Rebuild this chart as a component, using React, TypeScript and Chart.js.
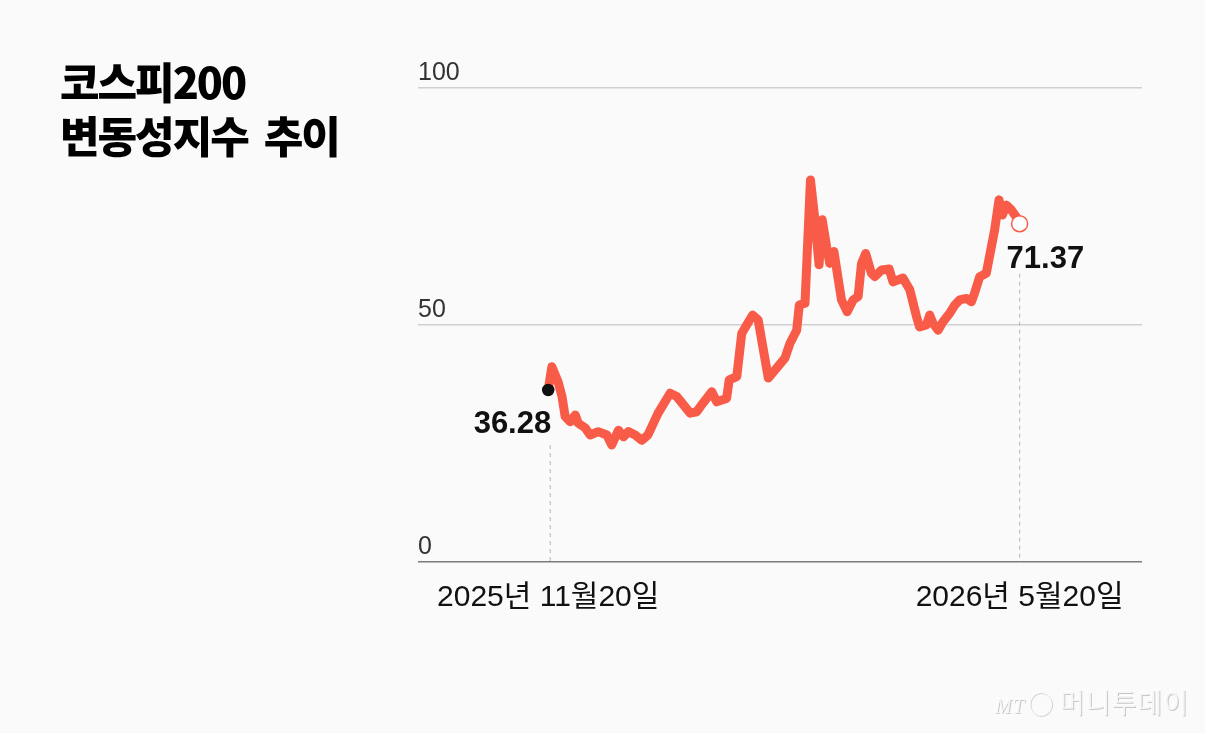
import React, { useEffect, useRef } from "react";
import { Chart, registerables } from "chart.js";

Chart.register(...registerables);

// Days since 2025-11-20 (calendar days) and KOSPI200 volatility index values
const days: number[] = [
  0, 1.4, 3.8, 5.3, 6.5, 8.4, 10.4, 11.5, 14.2, 16.1, 19.2, 22.5, 24.4, 27.0, 28.9, 30.8,
  33.4, 35.9, 38.3, 42.2, 46.8, 49.4, 54.5, 57.0, 59.4, 62.8, 64.7, 68.5, 69.5, 72.4,
  74.3, 76.2, 78.5, 80.6, 84.5, 87.7, 90.9, 92.8, 95.4, 96.4, 98.6, 100.7, 102.4, 104.0,
  105.2, 106.9, 108.1, 109.7, 112.6, 114.8, 117.1, 119.0, 120.3, 121.9, 124.1, 125.4,
  128.0, 130.9, 132.4, 136.2, 138.8, 141.4, 142.6, 145.2, 146.5, 147.7, 149.7, 151.6,
  154.2, 156.1, 158.0, 160.6, 162.5, 163.7, 165.7, 168.2, 171.4, 173.1, 174.4, 175.9,
  177.8, 179.7, 181.0,
];
const values: number[] = [
  36.28, 41.2, 38.0, 34.9, 30.7, 29.6, 31.0, 29.3, 28.3, 26.8, 27.5, 26.8, 24.7, 27.8, 26.4, 27.5,
  26.8, 25.7, 26.8, 31.4, 35.6, 34.9, 31.4, 31.7, 33.5, 35.9, 33.8, 34.5, 38.4, 39.1,
  48.2, 50.0, 52.1, 51.1, 38.8, 40.9, 43.0, 46.1, 48.9, 54.2, 54.6, 80.6, 72.2, 62.7,
  72.2, 66.5, 63.0, 65.5, 55.3, 52.8, 55.3, 56.0, 63.0, 65.1, 60.9, 60.2,
  61.6, 61.8, 59.1, 59.9, 57.5, 51.8, 49.6, 50.0, 52.1, 50.4, 48.9, 50.7,
  52.5, 54.2, 55.3, 55.6, 54.9, 56.7, 60.2, 60.9, 70.0, 76.4, 73.2, 75.3,
  74.3, 72.8, 71.37,
];

const xTickDays: number[] = [0, 181];
const xTickLabels: string[] = ["2025년 11월20일", "2026년 5월20일"];
const yTicks: number[] = [0, 50, 100];
const startLabel = "36.28";
const endLabel = "71.37";

const NUMFONT = "'Liberation Sans Narrow', 'Liberation Sans', 'Noto Sans CJK KR', sans-serif";
const LINE_COLOR = "#f85c48";

const overlayPlugin = {
  id: "overlay",
  beforeDatasetsDraw(chart: any) {
    const { ctx, scales } = chart;
    const xs = scales.x;
    const ys = scales.y;
    const last = values.length - 1;
    const x0 = xs.getPixelForValue(days[0]);
    const y0 = ys.getPixelForValue(values[0]);
    const x1 = xs.getPixelForValue(days[last]);
    const y1 = ys.getPixelForValue(values[last]);
    const bottom = ys.getPixelForValue(0);
    ctx.save();
    ctx.strokeStyle = "#b5b5b5";
    ctx.lineWidth = 1;
    ctx.setLineDash([4, 4]);
    ctx.beginPath();
    ctx.moveTo(x0 + 2, y0 + 55);
    ctx.lineTo(x0 + 2, bottom);
    ctx.moveTo(x1, y1 + 50);
    ctx.lineTo(x1, bottom);
    ctx.stroke();
    ctx.restore();
  },
  afterDatasetsDraw(chart: any) {
    const { ctx, scales } = chart;
    const xs = scales.x;
    const ys = scales.y;
    const last = values.length - 1;
    const x0 = xs.getPixelForValue(days[0]);
    const y0 = ys.getPixelForValue(values[0]);
    const x1 = xs.getPixelForValue(days[last]);
    const y1 = ys.getPixelForValue(values[last]);
    ctx.save();
    ctx.fillStyle = "#111";
    ctx.font = `bold 31px ${NUMFONT}`;
    ctx.textBaseline = "alphabetic";
    ctx.textAlign = "right";
    ctx.fillText(startLabel, x0 + 3, y0 + 43);
    ctx.textAlign = "left";
    ctx.fillText(endLabel, x1 - 13, y1 + 44);
    ctx.restore();
  },
};

export default function App() {
  const ref = useRef<HTMLCanvasElement | null>(null);

  useEffect(() => {
    if (!ref.current) return;
    const last = values.length - 1;
    const chart = new Chart(ref.current, {
      type: "line",
      data: {
        datasets: [
          {
            data: days.map((d, i) => ({ x: d, y: values[i] })),
            borderColor: LINE_COLOR,
            borderWidth: 9,
            borderJoinStyle: "round",
            borderCapStyle: "round",
            tension: 0,
            pointRadius: (c: any) => (c.dataIndex === 0 ? 5.5 : c.dataIndex === last ? 8 : 0),
            pointHoverRadius: 0,
            pointBackgroundColor: (c: any) => (c.dataIndex === 0 ? "#111" : "#ffffff"),
            pointBorderColor: (c: any) => (c.dataIndex === 0 ? "#111" : LINE_COLOR),
            pointBorderWidth: 1.5,
          } as any,
        ],
      },
      options: {
        animation: false,
        responsive: false,
        events: [],
        layout: { padding: { left: 418, right: 63, top: 88, bottom: 0 } },
        plugins: {
          legend: { display: false },
          tooltip: { enabled: false },
          title: { display: false },
        },
        scales: {
          x: {
            type: "linear",
            min: -50,
            max: 228,
            grid: { display: false, drawTicks: false },
            border: { display: false },
            afterBuildTicks: (scale: any) => {
              scale.ticks = xTickDays.map((v) => ({ value: v }));
            },
            afterFit: (scale: any) => {
              scale.height = 171;
            },
            ticks: {
              autoSkip: false,
              maxRotation: 0,
              padding: 18,
              color: "#111",
              font: { family: NUMFONT, size: 30 },
              callback: (v: any) => {
                const i = xTickDays.indexOf(Number(v));
                return i >= 0 ? xTickLabels[i] : "";
              },
            },
          },
          y: {
            type: "linear",
            min: 0,
            max: 100,
            afterBuildTicks: (scale: any) => {
              scale.ticks = yTicks.map((v) => ({ value: v }));
            },
            grid: {
              drawTicks: false,
              color: (c: any) => (c.tick && c.tick.value === 0 ? "#7a7a7a" : "#cfcfcf"),
              lineWidth: 1.5,
            },
            border: { display: false },
            ticks: {
              mirror: true,
              padding: 0,
              labelOffset: -15,
              color: "#333",
              font: { family: NUMFONT, size: 25 },
            },
          },
        },
      } as any,
      plugins: [overlayPlugin],
    });
    return () => chart.destroy();
  }, []);

  return (
    <div
      style={{
        position: "absolute",
        left: 0,
        top: 0,
        width: 1205,
        height: 733,
        background: "#fafafa",
        overflow: "hidden",
      }}
    >
      <canvas ref={ref} width={1205} height={733} style={{ position: "absolute", left: 0, top: 0 }} />
      <div
        style={{
          position: "absolute",
          left: 60,
          top: 53,
          fontFamily: "'Noto Sans CJK KR', sans-serif",
          fontWeight: 900,
          fontSize: 43,
          lineHeight: "54px",
          letterSpacing: "-2px",
          wordSpacing: "8px",
          color: "#000",
        }}
      >
        <div>코스피200</div>
        <div>변동성지수 추이</div>
      </div>
      <div
        style={{
          position: "absolute",
          left: 995,
          top: 682,
          fontFamily: "'Noto Sans CJK KR', sans-serif",
          fontSize: 27,
          color: "#f6f6f6",
          textShadow: "1px 1px 0 #c8c8c8, -1px -1px 0 #ffffff",
          letterSpacing: "1px",
        }}
      >
        <span style={{ fontStyle: "italic", fontSize: 20, fontFamily: "'Liberation Serif', serif" }}>MT</span>
        <span style={{ fontSize: 24, marginLeft: 4, marginRight: 6 }}>◯</span>
        머니투데이
      </div>
    </div>
  );
}
